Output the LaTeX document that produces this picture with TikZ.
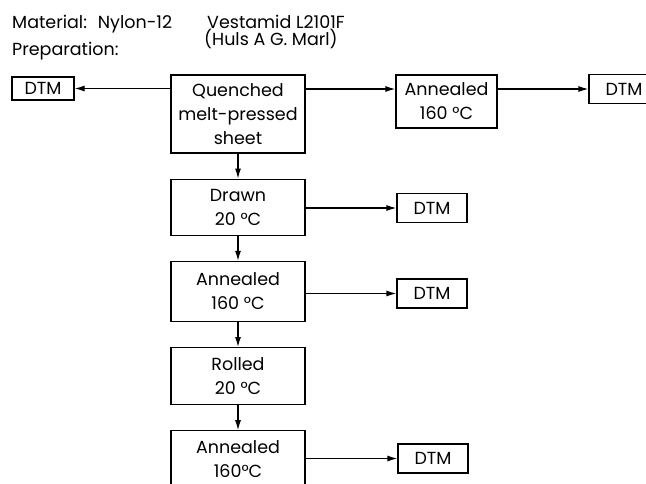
\documentclass[tikz,border=0pt]{standalone}
\usepackage{fontspec}
\setmainfont{Poppins}
\usetikzlibrary{arrows.meta,positioning}

\begin{document}
\begin{tikzpicture}[
  x=1pt, y=-1pt,
  font=\fontsize{17.5}{24}\selectfont,
  stage/.style={draw, line width=1.2pt, align=center, minimum width=134pt, inner sep=2pt},
  dtm/.style={draw, line width=1.2pt, minimum width=70pt, minimum height=29pt, inner sep=2pt},
  arrow/.style={-{Latex[length=10pt,width=6pt]}, line width=1.2pt},
  head/.style={anchor=base west, inner sep=0pt}
]
\useasboundingbox (0,0) rectangle (646,483);

% header
\node[head] (material) at (12,28) {Material: \ Nylon-12};
\node[head] (vestamid) at (207,28) {Vestamid L2101F};
\node[head] (huls) at (204,45) {(Huls A G. Marl)};
\node[head] (prep) at (12,55) {Preparation:};

% preparation route
\node[stage, minimum height=78pt] (quench) at (238,114) {Quenched\\melt-pressed\\sheet};
\node[stage, minimum height=56pt, below=25pt of quench] (drawn) {Drawn\\20 °C};
\node[stage, minimum height=60pt, below=25pt of drawn] (anneal1) {Annealed\\160 °C};
\node[stage, minimum height=57pt, below=25pt of anneal1] (rolled) {Rolled\\20 °C};
\node[stage, minimum height=57pt, below=25pt of rolled] (anneal2) {Annealed\\160°C};
\node[stage, minimum width=101pt, minimum height=53pt] (annealT) at (446.5,101.5) {Annealed\\160 °C};

% measurements
\node[dtm, minimum width=62pt, minimum height=23pt] (dtmL) at (43,88.5) {DTM};
\node[dtm] (dtmR) at (624,89) {DTM};
\node[dtm] (dtm1) at (432,208) {DTM};
\node[dtm] (dtm2) at (432,293.5) {DTM};
\node[dtm] (dtm3) at (433,458.5) {DTM};

\draw[arrow] (quench.west |- dtmL) -- (dtmL);
\draw[arrow] (quench.east |- dtmR) -- (annealT.west |- dtmR);
\draw[arrow] (annealT.east |- dtmR) -- (dtmR);
\draw[arrow] (quench) -- (drawn);
\draw[arrow] (drawn) -- (anneal1);
\draw[arrow] (anneal1) -- (rolled);
\draw[arrow] (rolled) -- (anneal2);
\draw[arrow] (drawn.east |- dtm1) -- (dtm1);
\draw[arrow] (anneal1.east |- dtm2) -- (dtm2);
\draw[arrow] (anneal2.east |- dtm3) -- (dtm3);

\end{tikzpicture}
\end{document}
